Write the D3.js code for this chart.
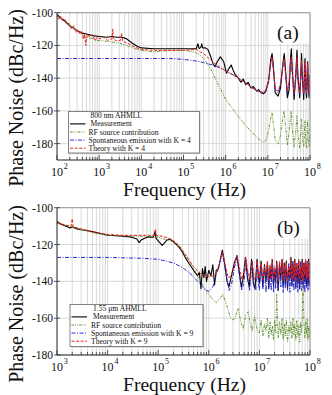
<!DOCTYPE html>
<html>
<head>
<meta charset="utf-8">
<script src="https://cdnjs.cloudflare.com/ajax/libs/d3/7.8.5/d3.min.js"></script>
<style>
  body { margin: 0; background: #fff; }
  svg { display: block; }
  svg text { font-family: "Liberation Serif", "Times New Roman", Times, serif; fill: #111; }
</style>
</head>
<body>
<svg id="chart" width="332" height="395" font-family="Liberation Serif, Times New Roman, serif"></svg>
<script>
// ---- panel (a): 800 nm AHMLL ----
const xTicksA = [1e2, 1e3, 1e4, 1e5, 1e6, 1e7, 1e8];
const yTicksA = [-100, -120, -140, -160, -180];
const legendA = ["800 nm AHMLL", "Measurement", "RF source contribution", "Spontaneous emission with K = 4", "Theory with K = 4"];

const measA = [[1e2,-101],[1.2e2,-103],[1.5e2,-105],[2e2,-108],[2.5e2,-109.5],[3e2,-111],[4e2,-112.5],[5e2,-113],[7e2,-114],
  [1e3,-114.5],[1.5e3,-115],[2e3,-114.5],[2.6e3,-115],[3.5e3,-115],[4.5e3,-116],[6e3,-118.5],[8e3,-120.5],[1e4,-121.5],[2e4,-122],
  [5e4,-122],[1e5,-122],[2e5,-122],[2.2e5,-119],[2.35e5,-122],[2.6e5,-121],[2.7e5,-119],[2.85e5,-121.5],[3.3e5,-121.5],[3.8e5,-122.5],
  [4.3e5,-126],[5e5,-131],[5.6e5,-133],[6.3e5,-130],[7.5e5,-127],[9e5,-130],[1.05e6,-137],[1.2e6,-134],[1.35e6,-132],[1.5e6,-135],
  [1.7e6,-138],[2e6,-140],[2.3e6,-142.5],[2.6e6,-140.5],[3e6,-144],[3.4e6,-142.5],[4e6,-146],[4.5e6,-145],[5.5e6,-148],[6e6,-147],
  [7e6,-149],[8e6,-149.5],[9e6,-148],[1.05e7,-141],[1.18e7,-128],[1.26e7,-125],[1.34e7,-131],[1.5e7,-149],[1.75e7,-151],[2e7,-146],
  [2.3e7,-130],[2.45e7,-125],[2.6e7,-133],[2.9e7,-152],[3.2e7,-147],[3.45e7,-128],[3.6e7,-122],[3.75e7,-132],[4.2e7,-153],
  [4.6e7,-138],[4.9e7,-123],[5.2e7,-140],[5.7e7,-152],[6.1e7,-135],[6.3e7,-125],[6.6e7,-140],[7.1e7,-153],[7.45e7,-133],
  [7.6e7,-128],[7.9e7,-145],[8.3e7,-152],[8.65e7,-134],[8.8e7,-130],[9.2e7,-147],[9.6e7,-152],[1e8,-138]];

const rfA = [[1e2,-102],[1.2e2,-104],[1.4e2,-103.5],[1.6e2,-106],[2e2,-108],[2.5e2,-109.5],[3e2,-111],[3.5e2,-112.5],[4e2,-113],
  [4.5e2,-116],[5e2,-114.5],[6e2,-116],[7e2,-115.5],[8e2,-117],[1e3,-117],[1.5e3,-117.5],[2e3,-118],[3e3,-118.5],[5e3,-120.5],
  [7e3,-122],[1e4,-123],[2e4,-124],[3e4,-123.5],[5e4,-123],[1e5,-123],[1.5e5,-123.5],[2e5,-124.5],[2.5e5,-126],[3e5,-128],
  [4e5,-132.5],[5e5,-137],[7e5,-145],[1e6,-153],[1.5e6,-159],[2e6,-163.5],[3e6,-169],[4e6,-172.5],[5e6,-175],[6e6,-177],
  [7e6,-178.5],[8e6,-179],[9e6,-178],[1.05e7,-172],[1.18e7,-164],[1.26e7,-161],[1.34e7,-167],[1.5e7,-178],[1.75e7,-180],
  [2e7,-175],[2.3e7,-163],[2.45e7,-160],[2.6e7,-168],[2.9e7,-181],[3.2e7,-173],[3.45e7,-163],[3.6e7,-160],[3.75e7,-170],
  [4.2e7,-182],[4.6e7,-172],[4.9e7,-163],[5.2e7,-174],[5.7e7,-183],[6.1e7,-170],[6.3e7,-165],[6.6e7,-176],[7.1e7,-182],
  [7.45e7,-170],[7.6e7,-166],[7.9e7,-178],[8.3e7,-183],[8.65e7,-170],[8.8e7,-166],[9.2e7,-179],[9.6e7,-182],[1e8,-171]];

const spontA = [[1e2,-128],[1e3,-128],[1e4,-128],[5e4,-128],[1e5,-128.5],[2e5,-129.5],[3e5,-130.5],[5e5,-132],[7e5,-133.5],
  [1e6,-135.5],[1.5e6,-138],[2e6,-140],[3e6,-143],[4e6,-145.5],[5e6,-147],[6e6,-148],[7e6,-148.5],[8e6,-149],[9e6,-147.5],
  [1.05e7,-142],[1.18e7,-131],[1.26e7,-128],[1.34e7,-134],[1.5e7,-147],[1.75e7,-149],[2e7,-144],[2.3e7,-132],[2.45e7,-129],
  [2.6e7,-136],[2.9e7,-149],[3.2e7,-143],[3.45e7,-131],[3.6e7,-127],[3.75e7,-136],[4.2e7,-150],[4.6e7,-140],[4.9e7,-128],
  [5.2e7,-142],[5.7e7,-150],[6.1e7,-137],[6.3e7,-130],[6.6e7,-142],[7.1e7,-150],[7.45e7,-137],[7.6e7,-131],[7.9e7,-146],
  [8.3e7,-150],[8.65e7,-137],[8.8e7,-132],[9.2e7,-147],[9.6e7,-150],[1e8,-141]];

const theoryA = [[1e2,-101],[1.1e2,-104],[1.2e2,-102],[1.35e2,-105],[1.5e2,-103.5],[1.7e2,-106],[2e2,-107],[2.2e2,-110],[2.5e2,-108],
  [2.8e2,-112],[3e2,-110],[3.4e2,-113],[3.8e2,-111],[4.2e2,-116],[4.5e2,-113],[4.8e2,-120],[5.2e2,-113],[6e2,-115],[7e2,-113.5],
  [8e2,-117],[9e2,-115],[1e3,-116],[1.3e3,-115],[1.6e3,-117],[2e3,-116],[2.1e3,-110],[2.2e3,-116.5],[2.6e3,-117],[3.2e3,-117],
  [3.4e3,-112.5],[3.6e3,-117.5],[4e3,-118],[5e3,-119],[7e3,-121],[1e4,-122.5],[2e4,-123],[5e4,-123],[1e5,-123],[2e5,-122.5],
  [2.5e5,-124],[3e5,-125],[4e5,-128],[5e5,-130],[7e5,-133],[1e6,-135.5],[1.5e6,-138],[2e6,-140],[3e6,-143],[4e6,-145.5],
  [5e6,-147],[6e6,-148],[7e6,-148.5],[8e6,-148.5],[9e6,-147],[1.05e7,-141],[1.18e7,-130],[1.26e7,-127],[1.34e7,-133],[1.5e7,-146],
  [1.75e7,-148],[2e7,-143],[2.3e7,-131],[2.45e7,-128],[2.6e7,-135],[2.9e7,-148],[3.2e7,-142],[3.45e7,-130],[3.6e7,-127],
  [3.75e7,-135],[4.2e7,-149],[4.6e7,-139],[4.9e7,-127],[5.2e7,-141],[5.7e7,-149],[6.1e7,-136],[6.3e7,-129],[6.6e7,-141],
  [7.1e7,-149],[7.45e7,-136],[7.6e7,-130],[7.9e7,-145],[8.3e7,-149],[8.65e7,-136],[8.8e7,-131],[9.2e7,-146],[9.6e7,-149],[1e8,-140]];

// ---- panel (b): 1.55 um AHMLL ----
const xTicksB = [1e3, 1e4, 1e5, 1e6, 1e7, 1e8];
const yTicksB = [-100, -120, -140, -160, -180];
const legendB = ["1.55 \u03bcm AHMLL", "Measurement", "RF source contribution", "Spontaneous emission with K = 9", "Theory with K = 9"];

// dense comb region 1e7..1e8 (alternating trough / peak)
const combFreqB = [1.0e7,1.08e7,1.17e7,1.26e7,1.35e7,1.44e7,1.53e7,1.62e7,1.71e7,1.8e7,1.9e7,2.0e7,2.1e7,2.2e7,2.35e7,2.5e7,
  2.65e7,2.8e7,2.95e7,3.1e7,3.25e7,3.4e7,3.6e7,3.8e7,4.0e7,4.2e7,4.4e7,4.6e7,4.8e7,5.0e7,5.25e7,5.5e7,5.75e7,6.0e7,6.25e7,
  6.5e7,6.75e7,7.0e7,7.3e7,7.6e7,7.9e7,8.2e7,8.5e7,8.8e7,9.1e7,9.4e7,9.7e7,1e8];
const measCombB = [-141,-129,-143,-131,-140,-130,-144,-132,-139,-128,-142,-133,-140,-129,-145,-131,-138,-128,-143,-130,-141,-129,
  -144,-132,-139,-127,-142,-130,-140,-128,-143,-131,-141,-129,-144,-133,-139,-128,-142,-130,-140,-129,-143,-131,-141,-128,-142,-130];
const theoryCombB = [-138,-130,-139,-132,-137,-129,-140,-131,-138,-128,-139,-133,-137,-130,-140,-129,-136,-128,-139,-131,-138,-130,
  -140,-132,-137,-128,-139,-131,-138,-129,-140,-130,-137,-128,-139,-132,-138,-129,-140,-131,-137,-128,-139,-130,-138,-129,-140,-131];
const spontCombB = [-145,-131,-144,-133,-146,-130,-143,-134,-145,-129,-146,-132,-144,-131,-145,-130,-143,-129,-146,-133,-144,-131,
  -145,-130,-146,-132,-143,-129,-145,-131,-144,-130,-146,-133,-143,-129,-145,-132,-144,-130,-146,-131,-143,-129,-145,-132,-144,-130];
const rfCombB = [-168,-161,-170,-163,-167,-160,-171,-162,-169,-164,-172,-161,-168,-147,-171,-162,-169,-160,-172,-163,-170,-161,
  -173,-164,-168,-162,-171,-160,-169,-163,-172,-161,-170,-164,-173,-162,-168,-161,-143,-163,-171,-162,-169,-160,-172,-164,-170,-165];

const measB = [[1e3,-107.5],[1.2e3,-109],[1.5e3,-110],[1.8e3,-111],[2e3,-110.5],[2.5e3,-111.5],[3e3,-112],[4e3,-112.5],[5e3,-113],
  [7e3,-114],[1e4,-115],[2e4,-115.5],[3e4,-116],[3.8e4,-117],[4.2e4,-119],[4.6e4,-117.5],[6e4,-116],[8e4,-116],[8.7e4,-113],
  [9e4,-116.5],[1e5,-118],[1.2e5,-120.5],[1.5e5,-117.5],[1.7e5,-117],[2e5,-118.5],[2.5e5,-121],[3e5,-124],[3.5e5,-127.5],
  [4e5,-130],[5e5,-134],[6e5,-137],[6.5e5,-135],[7e5,-144],[7.5e5,-133],[8e5,-138],[8.5e5,-132],[9e5,-140],[1e6,-134],
  [1.1e6,-137],[1.2e6,-131],[1.3e6,-142],[1.4e6,-134],[1.55e6,-133],[1.7e6,-128],[1.85e6,-123],[2e6,-128],[2.3e6,-140],
  [2.5e6,-143],[2.8e6,-137],[3.2e6,-130],[3.6e6,-126],[4e6,-135],[4.4e6,-143],[4.8e6,-138],[5.3e6,-127],[5.8e6,-138],
  [6.3e6,-143],[7e6,-128],[7.6e6,-141],[8.2e6,-144],[9e6,-128],[9.5e6,-137]];

const theoryB = [[1e3,-108],[1.5e3,-109.5],[1.9e3,-110],[2e3,-106],[2.1e3,-110.5],[3e3,-111.5],[5e3,-113],[1e4,-114.5],[2e4,-115],
  [5e4,-115],[8.5e4,-115],[8.8e4,-111.5],[9.2e4,-115],[1.2e5,-115.5],[1.6e5,-116.5],[2e5,-118],[2.5e5,-120],[3e5,-123],[4e5,-128],
  [5e5,-132],[7e5,-136],[1e6,-137.5],[1.3e6,-137],[1.5e6,-134],[1.7e6,-128],[1.85e6,-124],[2e6,-128],[2.4e6,-138],[2.8e6,-137],
  [3.2e6,-131],[3.6e6,-126],[4e6,-132],[4.5e6,-139],[5e6,-134],[5.4e6,-127],[5.9e6,-135],[6.4e6,-139],[7.2e6,-129],[7.9e6,-139],
  [8.5e6,-139],[9e6,-129],[9.5e6,-136]];

const spontB = [[1e3,-127],[1e4,-127],[5e4,-127.5],[1e5,-128],[2e5,-130],[3e5,-132.5],[4e5,-135],[5e5,-137.5],[6e5,-140],[7e5,-142],
  [8e5,-144],[1e6,-145.5],[1.2e6,-143],[1.4e6,-137],[1.6e6,-131],[1.85e6,-125],[2.1e6,-133],[2.5e6,-145],[2.8e6,-142],[3.2e6,-133],
  [3.6e6,-127],[4e6,-136],[4.5e6,-145],[5e6,-140],[5.4e6,-128],[5.9e6,-138],[6.4e6,-145],[7.2e6,-129],[7.9e6,-144],[8.5e6,-145],
  [9e6,-130],[9.5e6,-140]];

const rfB = [[1e3,-108.5],[2e3,-110.5],[5e3,-113.5],[1e4,-115],[5e4,-115.5],[1e5,-116],[2e5,-118.5],[3e5,-123.5],[4e5,-128.5],
  [5e5,-133],[6e5,-137],[7e5,-140],[9e5,-145.5],[1.2e6,-150],[1.4e6,-151.5],[1.6e6,-150],[1.9e6,-147],[2.2e6,-152],[2.7e6,-160],
  [3.2e6,-161],[3.8e6,-154.5],[4.3e6,-162],[4.8e6,-166],[5.4e6,-158],[6e6,-156.5],[6.6e6,-163],[7.2e6,-167],[8e6,-159],
  [8.8e6,-165],[9.5e6,-168]];

const styles = {
  meas:   { stroke: "#000", width: 1.1, dash: null },
  rf:     { stroke: "#5e8f2c", width: 1, dash: "2.5,1.2,0.8,1.2,0.8,1.2" },
  spont:  { stroke: "#2a2ad6", width: 1, dash: "4,1.5,1,1.5" },
  theory: { stroke: "#ee2218", width: 1, dash: "3,1.6" }
};

const svg = d3.select("#chart");
const withComb = (head, vals) => head.concat(combFreqB.map((f, i) => [f, vals[i]]));

function drawPanel(p) {
  const g = svg.append("g");
  const x = d3.scaleLog().domain(p.xDomain).range([57, 310]);
  const y = d3.scaleLinear().domain(p.yDomain).range([p.bottom, p.top]);

  // grid
  g.append("g").selectAll("line").data(x.ticks(30)).join("line")
    .attr("x1", d => x(d)).attr("x2", d => x(d)).attr("y1", p.top).attr("y2", p.bottom)
    .attr("stroke", "#cfcfcf").attr("stroke-width", 0.8);
  g.append("g").selectAll("line").data(p.yTicks).join("line")
    .attr("x1", 57).attr("x2", 310).attr("y1", d => y(d)).attr("y2", d => y(d))
    .attr("stroke", "#cfcfcf").attr("stroke-width", 0.8);

  // white patch behind panel letter
  g.append("rect").attr("x", 269).attr("y", p.top + 1).attr("width", 40).attr("height", 30).attr("fill", "#fff");

  // series
  const clipId = "clip" + p.name;
  g.append("clipPath").attr("id", clipId).append("rect")
    .attr("x", 57).attr("y", p.top).attr("width", 253).attr("height", p.bottom - p.top);
  const line = d3.line().x(d => x(d[0])).y(d => y(d[1]));
  const plot = g.append("g").attr("clip-path", `url(#${clipId})`);
  ["meas", "rf", "spont", "theory"].forEach(k => {
    const s = styles[k];
    plot.append("path").datum(p.series[k]).attr("d", line)
      .attr("fill", "none").attr("stroke", s.stroke).attr("stroke-width", s.width)
      .attr("stroke-dasharray", s.dash).attr("stroke-linejoin", "round");
  });

  // frame
  g.append("line").attr("x1", 57).attr("x2", 310).attr("y1", p.top).attr("y2", p.top).attr("stroke", "#999");
  g.append("line").attr("x1", 310).attr("x2", 310).attr("y1", p.top).attr("y2", p.bottom).attr("stroke", "#999");
  g.append("line").attr("x1", 57).attr("x2", 57).attr("y1", p.top).attr("y2", p.bottom).attr("stroke", "#333");
  g.append("line").attr("x1", 57).attr("x2", 310).attr("y1", p.bottom).attr("y2", p.bottom).attr("stroke", "#222");

  // x minor/major ticks (inward)
  g.append("g").selectAll("line").data(x.ticks(30)).join("line")
    .attr("x1", d => x(d)).attr("x2", d => x(d)).attr("y1", p.bottom)
    .attr("y2", d => p.bottom - (p.xTicks.includes(d) ? 5 : 3)).attr("stroke", "#333").attr("stroke-width", 0.8);
  // y ticks
  g.append("g").selectAll("line").data(p.yTicks).join("line")
    .attr("x1", 54).attr("x2", 60).attr("y1", d => y(d)).attr("y2", d => y(d)).attr("stroke", "#333").attr("stroke-width", 0.8);

  // tick labels
  const xl = g.append("g").selectAll("g").data(p.xTicks).join("g");
  xl.append("text").attr("x", d => x(d)).attr("y", p.bottom + 15.5).attr("text-anchor", "middle")
    .attr("font-size", 12).text("10");
  xl.append("text").attr("x", d => x(d) + 6.8).attr("y", p.bottom + 9).attr("font-size", 8)
    .text(d => Math.round(Math.log10(d)));
  g.append("g").selectAll("text").data(p.yTicks).join("text")
    .attr("x", 53).attr("y", d => y(d)).attr("dy", "0.35em").attr("text-anchor", "end")
    .attr("font-size", 11.5).text(d => d);

  // axis titles
  g.append("text").attr("transform", `translate(23,${p.ylabelY}) rotate(-90)`).attr("text-anchor", "middle")
    .attr("font-size", 20).text("Phase Noise (dBc/Hz)");
  g.append("text").attr("x", 184.5).attr("y", p.bottom + 35.5).attr("text-anchor", "middle")
    .attr("font-size", 19.5).text("Frequency (Hz)");

  // panel letter
  g.append("text").attr("x", 277).attr("y", p.top + 26.5).attr("font-size", 19.5).text(p.letter);

  // legend
  const L = p.legend;
  g.append("rect").attr("x", L.x + 1).attr("y", L.y + 1).attr("width", L.w).attr("height", L.h).attr("fill", "#c8c8c8");
  g.append("rect").attr("x", L.x).attr("y", L.y).attr("width", L.w).attr("height", L.h)
    .attr("fill", "#fff").attr("stroke", "#666").attr("stroke-width", 0.8);
  g.append("text").attr("x", L.textX + 2).attr("y", L.y + 6.8).attr("font-size", 7.6).text(p.legendText[0]);
  ["meas", "rf", "spont", "theory"].forEach((k, i) => {
    const yy = L.y + 6.8 + 8.1 * (i + 1);
    const s = styles[k];
    g.append("line").attr("x1", L.x + 1.5).attr("x2", L.x + 17).attr("y1", yy - 2.5).attr("y2", yy - 2.5)
      .attr("stroke", s.stroke).attr("stroke-width", s.width).attr("stroke-dasharray", s.dash);
    g.append("text").attr("x", L.textX + (i === 0 ? 2 : 0)).attr("y", yy).attr("font-size", 7.6)
      .text(p.legendText[i + 1]);
  });
}

drawPanel({
  name: "a", letter: "(a)", xDomain: [1e2, 1e8], yDomain: [-190, -100], top: 12.7, bottom: 160,
  xTicks: xTicksA, yTicks: yTicksA, ylabelY: 98, legendText: legendA,
  legend: { x: 68.5, y: 111.5, w: 131, h: 41.5, textX: 88.5 },
  series: { meas: measA, rf: rfA, spont: spontA, theory: theoryA }
});

drawPanel({
  name: "b", letter: "(b)", xDomain: [1e3, 1e8], yDomain: [-180, -100], top: 207.7, bottom: 355,
  xTicks: xTicksB, yTicks: yTicksB, ylabelY: 294, legendText: legendB,
  legend: { x: 70, y: 304.5, w: 133, h: 42, textX: 91 },
  series: {
    meas: withComb(measB, measCombB), rf: withComb(rfB, rfCombB),
    spont: withComb(spontB, spontCombB), theory: withComb(theoryB, theoryCombB)
  }
});
</script>
</body>
</html>
